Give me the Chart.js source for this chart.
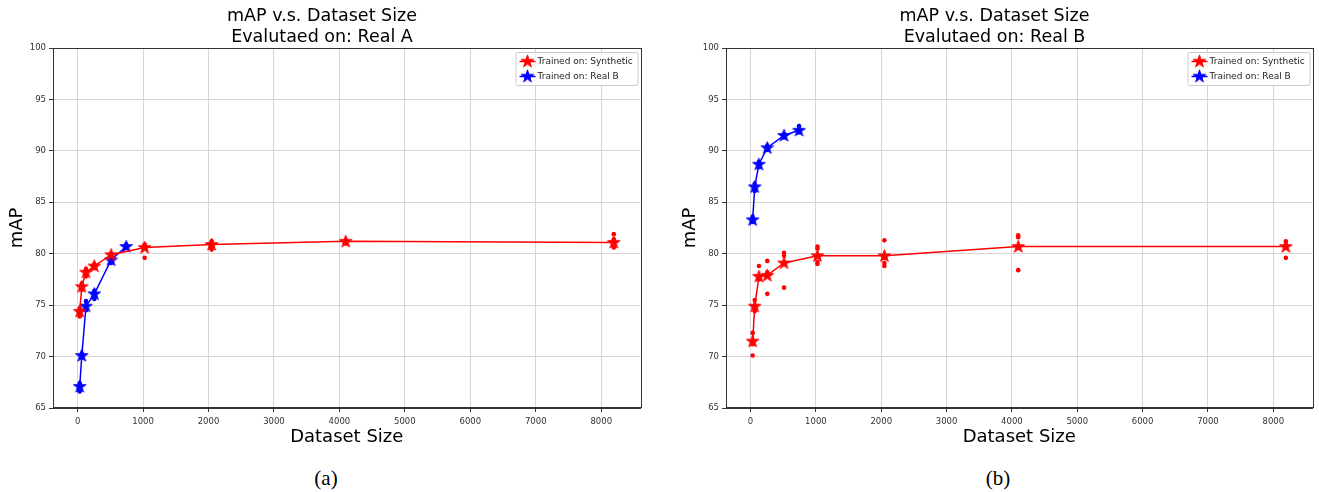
<!DOCTYPE html>
<html>
<head>
<meta charset="utf-8">
<script src="https://cdn.jsdelivr.net/npm/chart.js@4.4.0/dist/chart.umd.min.js"></script>
<style>
  body { margin: 0; background: #fff; width: 1319px; height: 492px; position: relative; overflow: hidden; }
  canvas { position: absolute; top: 0; }
  #chartA { left: 0; }
  #chartB { left: 673px; }
  .cap { position: absolute; top: 466px; width: 60px; text-align: center;
         font-family: "Liberation Serif", "Times New Roman", serif; font-size: 21px; color: #000; }
</style>
</head>
<body>
<canvas id="chartA" width="647" height="460"></canvas>
<canvas id="chartB" width="646" height="460"></canvas>
<div class="cap" style="left:296px">(a)</div>
<div class="cap" style="left:968px">(b)</div>
<script>
// dataset sizes
const sizesSyn = [32, 64, 128, 256, 512, 1024, 2048, 4096, 8192];
const sizesReal = [32, 64, 128, 256, 512, 742];

const xTicks = [0, 1000, 2000, 3000, 4000, 5000, 6000, 7000, 8000];
const yTicks = [65, 70, 75, 80, 85, 90, 95, 100];

// (a) evaluated on Real A
const synMeanA = [74.4, 76.8, 78.2, 78.8, 79.9, 80.6, 80.9, 81.2, 81.1];
const synRunsA = [[73.9, 74.2, 74.7], [76.5, 77.1], [77.8, 78.5, 78.0], [78.6, 79.0], [79.8, 80.0],
                  [79.6, 80.8, 80.9], [80.4, 81.2, 80.8], [81.0, 81.3], [80.6, 81.9, 81.4]];
const realMeanA = [67.1, 70.1, 74.9, 76.1, 79.4, 80.7];
const realRunsA = [[66.6, 67.4], [69.9, 70.3], [74.5, 75.4], [75.6, 76.4], [79.1, 79.6], [80.6, 80.9]];

// (b) evaluated on Real B
const synMeanB = [71.5, 74.9, 77.8, 77.9, 79.1, 79.8, 79.8, 80.7, 80.7];
const synRunsB = [[70.1, 72.3, 71.2], [74.4, 75.5], [78.8, 77.5], [79.3, 76.1, 78.2], [80.1, 79.8, 76.7],
                  [80.7, 80.5, 79.0, 79.2], [81.3, 79.1, 78.8, 79.6], [81.8, 81.6, 78.4, 80.6], [81.2, 80.9, 79.6, 80.6]];
const realMeanB = [83.3, 86.5, 88.7, 90.3, 91.5, 92.0];
const realRunsB = [[83.1, 83.6], [86.1, 86.8], [88.4, 88.9], [90.1, 90.5], [91.3, 91.6], [91.8, 92.4]];

const FONT = "'DejaVu Sans', sans-serif";

function makeStar(color) {
  const c = document.createElement("canvas");
  c.width = 15; c.height = 15;
  const g = c.getContext("2d");
  const ro = 6.6, ri = ro * 0.382;
  g.beginPath();
  for (let i = 0; i < 10; i++) {
    const r = i % 2 ? ri : ro;
    const a = -Math.PI / 2 + i * Math.PI / 5;
    const px = 7.5 + r * Math.cos(a), py = 7.8 + r * Math.sin(a);
    i ? g.lineTo(px, py) : g.moveTo(px, py);
  }
  g.closePath();
  g.fillStyle = color; g.fill();
  g.strokeStyle = color; g.lineWidth = 1; g.stroke();
  return c;
}
const starRed = makeStar("#ff0000");
const starBlue = makeStar("#0000ff");

const toPoints = (xs, ys) => xs.map((x, i) => ({ x, y: ys[i] }));
const runPoints = (xs, runs) => xs.flatMap((x, i) => runs[i].map((y) => ({ x, y })));

// frame on all four sides + matplotlib-like legend box
const framePlugin = {
  id: "frame",
  afterDraw(chart) {
    const { ctx, chartArea: a } = chart;
    ctx.save();
    ctx.strokeStyle = "#333";
    ctx.lineWidth = 1;
    ctx.strokeRect(Math.round(a.left) + 0.5, Math.round(a.top) + 0.5,
      Math.round(a.right - a.left), Math.round(a.bottom - a.top) - 1);

    const w = 122, h = 33;
    const x = a.right - 3 - w, y = a.top + 4;
    ctx.fillStyle = "rgba(255,255,255,0.85)";
    ctx.strokeStyle = "#cccccc";
    ctx.beginPath();
    ctx.roundRect(x + 0.5, y + 0.5, w, h, 2);
    ctx.fill(); ctx.stroke();

    ctx.font = "9px " + FONT;
    ctx.textBaseline = "middle";
    chart.data.datasets.slice(0, 2).forEach((ds, i) => {
      const ry = y + 9.5 + i * 15;
      ctx.strokeStyle = ds.borderColor;
      ctx.lineWidth = 1.5;
      ctx.beginPath(); ctx.moveTo(x + 4, ry); ctx.lineTo(x + 20, ry); ctx.stroke();
      ctx.drawImage(ds.pointStyle, x + 12 - 7.5, ry - 7.8);
      ctx.fillStyle = "#222";
      ctx.fillText(ds.label, x + 22, ry);
    });
    ctx.restore();
  }
};

function makeChart(id, evalName, synMean, synRuns, realMean, realRuns) {
  return new Chart(document.getElementById(id), {
    type: "scatter",
    data: {
      datasets: [
        {
          label: "Trained on: Synthetic",
          data: toPoints(sizesSyn, synMean),
          showLine: true,
          borderColor: "#ff0000",
          borderWidth: 1.5,
          pointStyle: starRed,
          pointRadius: 5
        },
        {
          label: "Trained on: Real B",
          data: toPoints(sizesReal, realMean),
          showLine: true,
          borderColor: "#0000ff",
          borderWidth: 1.5,
          pointStyle: starBlue,
          pointRadius: 5
        },
        {
          label: "runs synthetic",
          data: runPoints(sizesSyn, synRuns),
          backgroundColor: "#ff0000",
          borderWidth: 0,
          pointRadius: 2.3
        },
        {
          label: "runs real",
          data: runPoints(sizesReal, realRuns),
          backgroundColor: "#0000ff",
          borderWidth: 0,
          pointRadius: 2.3
        }
      ]
    },
    options: {
      responsive: false,
      animation: false,
      layout: { padding: { left: 0, right: 3, top: 0, bottom: 0 } },
      plugins: {
        legend: { display: false },
        tooltip: { enabled: false },
        title: {
          display: true,
          text: ["mAP v.s. Dataset Size", "Evalutaed on: " + evalName],
          color: "#000",
          font: { family: FONT, size: 17.5, weight: "normal", lineHeight: 1.2 },
          padding: { top: 6, bottom: 0 }
        }
      },
      scales: {
        x: {
          type: "linear",
          min: -376,
          max: 8600,
          afterBuildTicks: (s) => { s.ticks = xTicks.map((v) => ({ value: v })); },
          afterFit: (s) => { s.height = 52; },
          grid: { color: "#d6d6d6", tickColor: "#333", tickLength: 4 },
          border: { color: "#333" },
          ticks: { color: "#333", font: { family: FONT, size: 8.5 }, maxRotation: 0, padding: 5,
                   callback: (v) => String(v) },
          title: { display: true, text: "Dataset Size", color: "#000",
                   font: { family: FONT, size: 18 }, padding: { top: 0, bottom: 12 } }
        },
        y: {
          min: 65,
          max: 100,
          afterBuildTicks: (s) => { s.ticks = yTicks.map((v) => ({ value: v })); },
          afterFit: (s) => { s.width = 53; },
          grid: { color: "#d6d6d6", tickColor: "#333", tickLength: 4 },
          border: { color: "#333" },
          ticks: { color: "#333", font: { family: FONT, size: 8.5 }, padding: 3,
                   callback: (v) => String(v) },
          title: { display: true, text: "mAP", color: "#000",
                   font: { family: FONT, size: 18 }, padding: { top: 7, bottom: 0 } }
        }
      }
    },
    plugins: [framePlugin]
  });
}

makeChart("chartA", "Real A", synMeanA, synRunsA, realMeanA, realRunsA);
makeChart("chartB", "Real B", synMeanB, synRunsB, realMeanB, realRunsB);
</script>
</body>
</html>
